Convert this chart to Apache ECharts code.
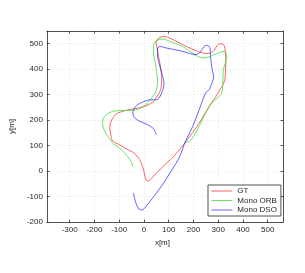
<!DOCTYPE html>
<html><head><meta charset="utf-8">
<script src="https://cdn.jsdelivr.net/npm/echarts@6/dist/echarts.min.js"></script>
<style>html,body{margin:0;padding:0;background:#fff}#c{width:305px;height:273px}</style>
</head><body><div id="c"></div>
<script>
const xTicks = [-300, -200, -100, 0, 100, 200, 300, 400, 500];
const yTicks = [-200, -100, 0, 100, 200, 300, 400, 500];
const seriesNames = ['GT', 'Mono ORB', 'Mono DSO'];
const gt = [[0,0],[4,-21],[9,-35],[14,-39],[24,-35],[79,20],[118,55],[170,116],[223,188],[263,253],[282,280],[295,299],[315,332],[327,358],[329,385],[331,424],[328,476],[322,496],[308,500],[295,492],[282,472],[269,463],[249,462],[217,470],[170,490],[105,522],[85,528],[59,522],[49,500],[52,489],[59,450],[67,411],[72,358],[67,319],[52,291],[39,273],[16,260],[0,253],[-26,247],[-66,240],[-94,232],[-111,225],[-130,201],[-138,173],[-134,142],[-126,118],[-98,103],[-79,91],[-39,70],[-13,37],[0,0]];
const orb = [[165,110],[190,122],[223,175],[249,227],[276,270],[308,297],[317,315],[319,358],[321,398],[329,425],[335,450],[331,466],[319,470],[302,464],[283,458],[269,450],[243,444],[217,450],[197,463],[157,489],[105,509],[79,518],[52,513],[39,492],[39,463],[46,424],[51,390],[55,350],[49,315],[35,291],[26,280],[7,260],[-33,240],[-72,238],[-118,236],[-150,223],[-165,205],[-167,185],[-161,162],[-146,136],[-125,109],[-94,87],[-66,57],[-51,36],[-46,17]];
const dso = [[-42,-87],[-37,-110],[-31,-129],[-20,-149],[-7,-153],[7,-140],[39,-101],[79,-48],[110,0],[138,44],[154,79],[164,109],[197,175],[223,240],[249,306],[263,319],[269,332],[282,370],[276,397],[269,450],[267,483],[256,494],[243,489],[230,470],[210,457],[157,470],[92,483],[66,489],[55,483],[55,450],[63,417],[72,385],[81,345],[72,307],[52,280],[26,280],[-7,270],[-26,260],[-39,247],[-45,228],[-39,211],[-20,197],[13,183],[39,166],[50,142]];
const colors = ['#ff2020', '#20dd20', '#2020ff'];
const X_MIN = -392, X_MAX = 562, Y_MIN = -200, Y_MAX = 550;

const axisCol = '#262626';
const font = 'Liberation Sans, Arial, sans-serif';
function xAx(pos, main) {
  return {
    type: 'value', position: pos, min: X_MIN, max: X_MAX,
    name: main ? 'x[m]' : '', nameLocation: 'middle', nameGap: 14,
    nameTextStyle: {color: axisCol, fontSize: 8, fontFamily: font, padding: [0, 5, 0, 0]},
    axisLine: {show: true, onZero: false, lineStyle: {color: axisCol, width: 0.8}},
    axisTick: {show: true, inside: true, length: 2.5, customValues: xTicks, lineStyle: {color: axisCol, width: 0.8}},
    axisLabel: {show: main, customValues: xTicks, margin: 4, color: axisCol, fontSize: 8, fontFamily: font},
    splitLine: {show: main, lineStyle: {color: '#e0e0e0', type: [1, 2], width: 0.8}}
  };
}
function yAx(pos, main) {
  return {
    type: 'value', position: pos, min: Y_MIN, max: Y_MAX,
    name: main ? 'y[m]' : '', nameLocation: 'middle', nameGap: 22,
    nameTextStyle: {color: axisCol, fontSize: 8, fontFamily: font},
    axisLine: {show: true, onZero: false, lineStyle: {color: axisCol, width: 0.8}},
    axisTick: {show: true, inside: true, length: 2.5, customValues: yTicks, lineStyle: {color: axisCol, width: 0.8}},
    axisLabel: {show: main, customValues: yTicks, margin: 4, color: axisCol, fontSize: 8, fontFamily: font},
    splitLine: {show: main, lineStyle: {color: '#e0e0e0', type: [1, 2], width: 0.8}}
  };
}
const datas = [gt, orb, dso];
const chart = echarts.init(document.getElementById('c'), null, {renderer: 'canvas'});
chart.setOption({
  animation: false,
  backgroundColor: '#fff',
  grid: {left: 40, right: 22, top: 31, bottom: 51},
  xAxis: [xAx('bottom', true), xAx('top', false)],
  yAxis: [yAx('left', true), yAx('right', false)],
  legend: {
    left: 208, top: 185, orient: 'vertical', itemGap: 1.5, itemWidth: 21, itemHeight: 8,
    padding: [2, 4, 2, 3], backgroundColor: '#fff', borderColor: axisCol, borderWidth: 0.8, borderRadius: 0,
    textStyle: {color: axisCol, fontSize: 8, fontFamily: font},
    itemStyle: {opacity: 0},
    lineStyle: {width: 0.7},
    data: seriesNames,
    z: 10
  },
  series: seriesNames.map((n, i) => ({
    name: n, type: 'line', data: datas[i], showSymbol: false, symbol: 'none', smooth: 0.3,
    lineStyle: {color: colors[i], width: 0.7}, itemStyle: {color: colors[i]}, z: 2 + i
  }))
});
</script></body></html>
